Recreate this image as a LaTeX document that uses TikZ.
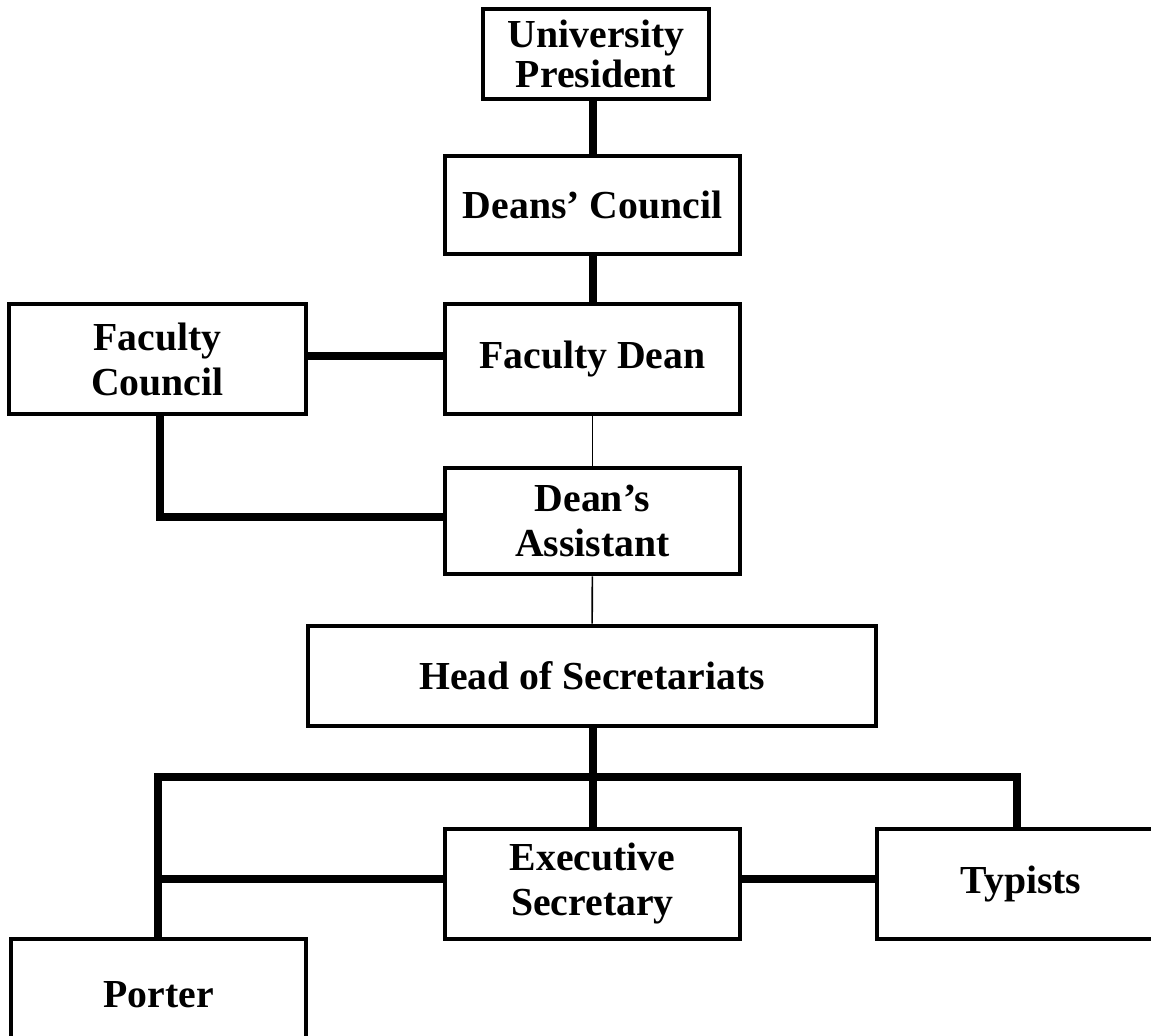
\documentclass[tikz,border=0pt]{standalone}
\usepackage{fontspec}
\setmainfont{Liberation Serif}
\usepackage{tikz}
\usetikzlibrary{positioning,calc}
\tikzstyle{block} = [draw, rectangle, line width=1.4pt, align=center,
    font=\bfseries\fontsize{11.3}{12.8}\selectfont,
    minimum width=2.95cm, minimum height=1.08cm, inner sep=0pt]
\tikzstyle{coord} = [coordinate]
\tikzstyle{connector} = [line width=2pt]
\tikzstyle{thinline} = [line width=0.45pt]

\begin{document}
\begin{tikzpicture}
		\clip (0,0) rectangle (11.51,10.36);
		
		\node[block, minimum width=2.26cm, minimum height=0.9cm,
		      font=\bfseries\fontsize{11.3}{11.4}\selectfont] (pres) at (5.96,9.82) {University\\President};
		\node[block, minimum height=0.98cm] (deans) at (5.925,8.31) {Deans' Council};
		\node[block, minimum height=1.1cm] (fdean) at (5.925,6.77) {Faculty Dean};
		\node[block, minimum width=2.97cm, minimum height=1.1cm] (fcouncil) at (1.575,6.77) {Faculty\\Council};
		\node[block, minimum height=1.06cm] (dasst) at (5.925,5.15) {Dean's\\Assistant};
		\node[block, minimum width=5.68cm, minimum height=1.0cm] (head) at (5.92,3.60) {Head of Secretariats};
		\node[block, minimum height=1.1cm] (exec) at (5.925,1.52) {Executive\\Secretary};
		\node[block, minimum width=2.88cm, minimum height=1.1cm] (typists) at (10.21,1.52) {Typists};
		\node[block, minimum height=1.12cm] (porter) at (1.585,0.41) {Porter};
		
		\node[coord] (bus) at (5.93,2.59) {};
		
		\draw[connector] (deans.north -| 5.93,0) -- (pres.south -| 5.93,0);
		\draw[connector] (deans.south -| 5.93,0) -- (fdean.north -| 5.93,0);
		\draw[thinline] (fdean) -- (dasst);
		\draw[thinline] (dasst) -- (head);
		\draw[connector] (fcouncil.east |- 0,6.80) -- (fdean.west |- 0,6.80);
		\draw[connector] (fcouncil.south -| 1.60,0) |- (dasst.west |- 0,5.19);
		\draw[connector] (head.south -| bus) -- (exec.north -| bus);
		\draw[connector] (porter.north -| 1.58,0) -- (1.58,0 |- bus) -- (10.17,0 |- bus) -- (typists.north -| 10.17,0);
		\draw[connector] (exec.west |- 0,1.57) -- (1.58,1.57);
		\draw[connector] (exec.east |- 0,1.57) -- (typists.west |- 0,1.57);
	\end{tikzpicture}
\end{document}
